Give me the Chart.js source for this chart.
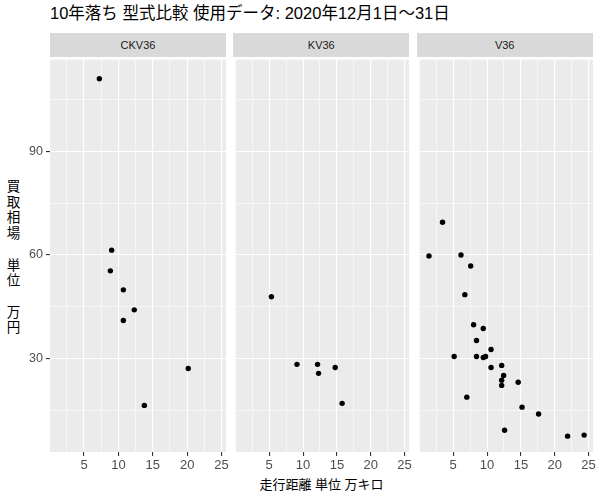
<!DOCTYPE html>
<html>
<head>
<meta charset="utf-8">
<script src="https://cdn.jsdelivr.net/npm/chart.js@4/dist/chart.umd.min.js"></script>
<style>
  html, body { margin: 0; padding: 0; background: #ffffff; }
  body { width: 600px; height: 500px; position: relative; overflow: hidden;
         font-family: "Liberation Sans", "Noto Sans CJK JP", sans-serif; }
  .abs { position: absolute; }
  #title { left: 50px; top: 3px; font-size: 16.5px; line-height: 20px; color: #000; white-space: nowrap; }
  .strip { top: 33px; height: 24px; line-height: 24px; background: #D9D9D9; color: #1A1A1A;
           font-size: 11px; text-align: center; }
  #ytitle { left: 0px; top: 179px; width: 27px; font-size: 13.5px; line-height: 15.7px; text-align: center; color: #000; }
  #xtitle { left: 50px; width: 543px; top: 476px; font-size: 13px; line-height: 18px; text-align: center; color: #000; }
  canvas { display: block; }
</style>
</head>
<body>
<script>
// ---- data ----
const panelNames = ["CKV36", "KV36", "V36"];

const ckvX = [7.23, 9.02, 8.83, 10.72, 12.31, 10.72, 20.16, 13.77];
const ckvY = [111.1, 61.4, 55.4, 49.9, 44.1, 41.0, 27.1, 16.4];

const kvX = [5.33, 9.10, 12.14, 12.29, 14.75, 15.77];
const kvY = [47.9, 28.3, 28.3, 25.7, 27.4, 17.0];

const vX = [3.42, 1.42, 6.15, 7.58, 6.72, 8.01, 9.44, 8.44, 10.59, 5.14, 8.44, 9.44, 9.78,
            10.59, 12.16, 12.45, 12.16, 12.16, 14.60, 7.01, 15.17, 17.61, 12.59, 21.9, 24.34];
const vY = [69.5, 59.7, 60.0, 56.8, 48.5, 39.8, 38.7, 35.2, 32.6, 30.6, 30.6, 30.3, 30.6,
            27.4, 28.0, 25.1, 23.7, 22.2, 23.1, 18.8, 15.9, 13.9, 9.2, 7.5, 7.8];

const xMajorTicks = [5, 10, 15, 20, 25];
const xMinorTicks = [2.5, 7.5, 12.5, 17.5, 22.5];
const yMajorTicks = [30, 60, 90];
const yMinorTicks = [15, 45, 75, 105];

const titleText = "10年落ち 型式比較 使用データ: 2020年12月1日～31日";
const yTitleLines = ["買", "取", "相", "場", "", "単", "位", "", "万", "円"];
const xTitleText = "走行距離 単位 万キロ";
</script>

<div id="title" class="abs"></div>
<div id="ytitle" class="abs"></div>
<div id="xtitle" class="abs"></div>

<script>
document.getElementById('title').textContent = titleText;
document.getElementById('ytitle').innerHTML = yTitleLines.map(s => s === "" ? "&nbsp;" : s).join("<br>");
document.getElementById('xtitle').textContent = xTitleText;

const FONT = '"Liberation Sans", "Noto Sans CJK JP", sans-serif';
const X_MIN = 0.05, X_MAX = 25.65;
const Y_MIN = 2.9, Y_MAX = 116.6;

const PLOT_TOP = 57, PLOT_H = 395, XAXIS_H = 40, RIGHT_PAD = 12;
const panels = [
  { left: 50, width: 176, xs: ckvX, ys: ckvY, yAxis: true },
  { left: 233.3, width: 176, xs: kvX, ys: kvY, yAxis: false },
  { left: 416.7, width: 176, xs: vX, ys: vY, yAxis: false },
];

const bgPlugin = {
  id: 'panelBg',
  beforeDraw(chart) {
    const a = chart.chartArea, ctx = chart.ctx;
    ctx.save();
    ctx.fillStyle = '#EBEBEB';
    ctx.fillRect(a.left, a.top, a.right - a.left, a.bottom - a.top);
    ctx.restore();
  }
};

const isMajor = (v, majors) => majors.some(m => Math.abs(m - v) < 1e-6);

panels.forEach((p, i) => {
  // strip
  const s = document.createElement('div');
  s.className = 'abs strip';
  s.style.left = p.left + 'px';
  s.style.width = p.width + 'px';
  s.textContent = panelNames[i];
  document.body.appendChild(s);

  const yW = p.yAxis ? 50 : 0;
  const wrap = document.createElement('div');
  wrap.className = 'abs';
  const cw = p.width + yW + RIGHT_PAD;
  const ch = PLOT_H + XAXIS_H;
  wrap.style.left = (p.left - yW) + 'px';
  wrap.style.top = PLOT_TOP + 'px';
  wrap.style.width = cw + 'px';
  wrap.style.height = ch + 'px';
  const c = document.createElement('canvas');
  wrap.appendChild(c);
  document.body.appendChild(wrap);

  new Chart(c, {
    type: 'scatter',
    data: {
      datasets: [{
        data: p.xs.map((x, k) => ({ x: x, y: p.ys[k] })),
        backgroundColor: '#000000',
        borderWidth: 0,
        pointRadius: 2.7,
        pointHoverRadius: 2.7
      }]
    },
    options: {
      responsive: true,
      maintainAspectRatio: false,
      animation: false,
      events: [],
      layout: { padding: { left: 0, right: RIGHT_PAD, top: 0, bottom: 0 } },
      plugins: { legend: { display: false }, tooltip: { enabled: false }, title: { display: false } },
      scales: {
        x: {
          type: 'linear',
          min: X_MIN, max: X_MAX,
          afterBuildTicks(axis) {
            axis.ticks = xMinorTicks.concat(xMajorTicks).sort((a, b) => a - b).map(v => ({ value: v }));
          },
          afterFit(scale) { scale.height = XAXIS_H; scale.paddingLeft = 0; scale.paddingRight = 0; },
          border: { display: false },
          grid: {
            drawTicks: true,
            tickLength: 4,
            color: (ctx) => '#FFFFFF',
            lineWidth: (ctx) => isMajor(ctx.tick.value, xMajorTicks) ? 1.1 : 0.55,
            tickColor: (ctx) => isMajor(ctx.tick.value, xMajorTicks) ? '#333333' : 'rgba(0,0,0,0)',
            tickWidth: 1.1
          },
          ticks: {
            autoSkip: false,
            maxRotation: 0,
            padding: 2,
            color: '#4D4D4D',
            font: { family: FONT, size: 13 },
            callback: (v) => isMajor(v, xMajorTicks) ? String(v) : ''
          }
        },
        y: {
          type: 'linear',
          min: Y_MIN, max: Y_MAX,
          afterBuildTicks(axis) {
            axis.ticks = yMinorTicks.concat(yMajorTicks).sort((a, b) => a - b).map(v => ({ value: v }));
          },
          afterFit(scale) { scale.width = yW; scale.paddingTop = 0; scale.paddingBottom = 0; },
          border: { display: false },
          grid: {
            drawTicks: p.yAxis,
            tickLength: 4,
            color: '#FFFFFF',
            lineWidth: (ctx) => isMajor(ctx.tick.value, yMajorTicks) ? 1.1 : 0.55,
            tickColor: (ctx) => isMajor(ctx.tick.value, yMajorTicks) ? '#333333' : 'rgba(0,0,0,0)',
            tickWidth: 1.1
          },
          ticks: {
            display: p.yAxis,
            padding: 3,
            color: '#4D4D4D',
            font: { family: FONT, size: 12.5 },
            callback: (v) => isMajor(v, yMajorTicks) ? String(v) : ''
          }
        }
      }
    },
    plugins: [bgPlugin]
  });
});
</script>
</body>
</html>
